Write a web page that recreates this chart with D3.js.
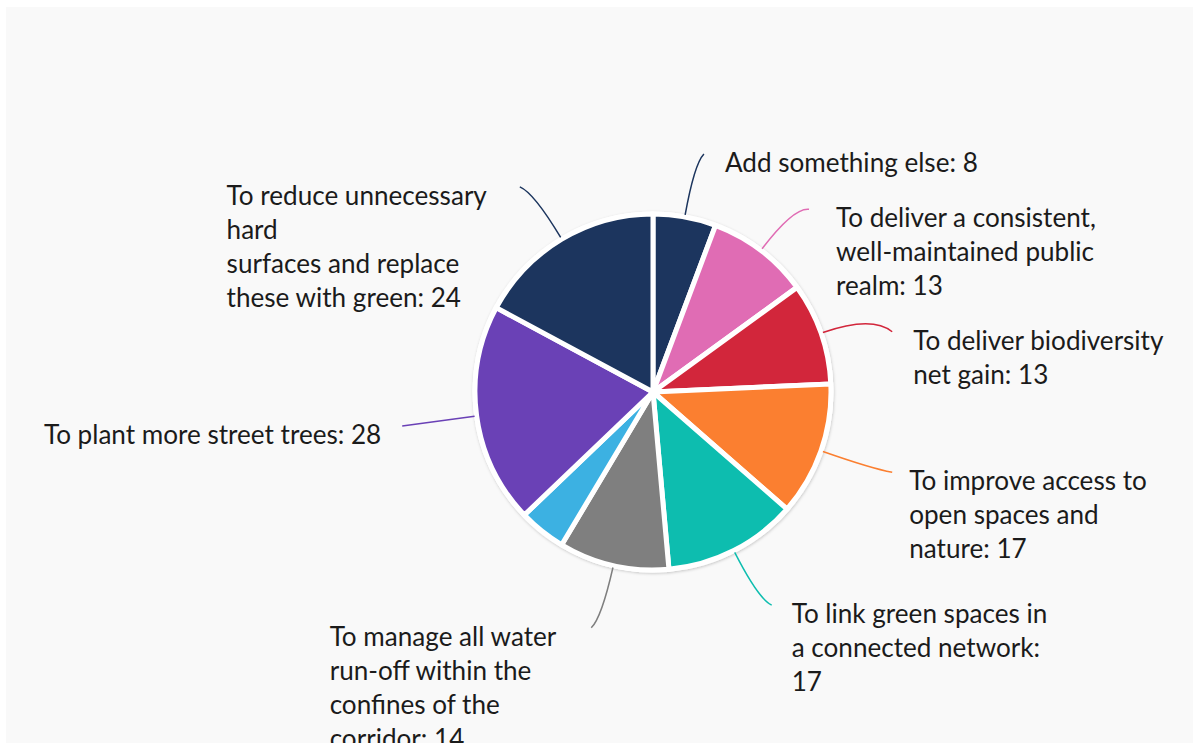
<!DOCTYPE html>
<html><head><meta charset="utf-8">
<script src="https://cdn.jsdelivr.net/npm/d3@7"></script>
<style>body{margin:0;background:#fff;overflow:hidden} svg{display:block}</style>
</head><body><svg id="c" width="1199" height="743"></svg>
<script>
// ---- data ----
const categories = [
  "Add something else",
  "To deliver a consistent, well-maintained public realm",
  "To deliver biodiversity net gain",
  "To improve access to open spaces and nature",
  "To link green spaces in a connected network",
  "To manage all water run-off within the confines of the corridor",
  "Other",
  "To plant more street trees",
  "To reduce unnecessary hard surfaces and replace these with green"
];
const values = [8, 13, 13, 17, 17, 14, 6, 28, 24];
// label text as displayed (wrapped), {v} = value; empty = no label shown
const labelTemplates = [
  "Add something else: {v}",
  "To deliver a consistent,\nwell-maintained public\nrealm: {v}",
  "To deliver biodiversity\nnet gain: {v}",
  "To improve access to\nopen spaces and\nnature: {v}",
  "To link green spaces in\na connected network:\n{v}",
  "To manage all water\nrun-off within the\nconfines of the\ncorridor: {v}",
  "",
  "To plant more street trees: {v}",
  "To reduce unnecessary\nhard\nsurfaces and replace\nthese with green: {v}"
];
const colors = ["#1c355e","#e06cb4","#d2263b","#fb7f30","#0dbdaf","#7f7f7f","#3cb1e2","#6a41b6","#1c355e"];
// layout: nudges of each label relative to its radial anchor
const labelNudge = [13, 22, 30, 8, 3, 5, 0, 10, 15];
const labelNudgeX = [0, 6, 0, -4, -1, -14, 0, 0, -12];

// ---- layout ----
const W = 1199, H = 743;
const cx = 653, cy = 392, R = 178, labelDist = 68;
const lineH = 34;

const svg = d3.select("#c");
const defs = svg.append("defs");
const f = defs.append("filter").attr("id","sh").attr("x","-20%").attr("y","-20%").attr("width","140%").attr("height","140%");
f.append("feDropShadow").attr("dx",0.5).attr("dy",1).attr("stdDeviation",1.6).attr("flood-color","#000").attr("flood-opacity",0.22);

svg.append("rect").attr("x",6).attr("y",7).attr("width",W-12).attr("height",H-7).attr("fill","#f9f9f9");

const g = svg.append("g").attr("transform",`translate(${cx},${cy})`);

const pie = d3.pie().sort(null).value(d=>d)(values);
const arc = d3.arc().innerRadius(0).outerRadius(R);

g.append("circle").attr("r",R+2.5).attr("fill","#fff").attr("filter","url(#sh)");
g.selectAll("path.slice").data(pie).join("path").attr("class","slice")
  .attr("d",arc).attr("fill",(d,i)=>colors[i]).attr("stroke","#fff").attr("stroke-width",5).attr("stroke-linejoin","round");

// font sizing to match reference text width
const probe = svg.append("text").attr("font-family","Lato, 'Source Sans Pro', sans-serif").attr("font-size",100).text("Add something else: 8");
const pw = probe.node().getComputedTextLength();
probe.remove();
const fs = 100*253/pw;

const polar = (r,a)=>[r*Math.sin(a), -r*Math.cos(a)];

pie.forEach((d,i)=>{
  const tpl = labelTemplates[i];
  if(!tpl) return;
  const a = (d.startAngle+d.endAngle)/2;
  const side = Math.sin(a) >= 0 ? 1 : -1;
  const anchor = polar(R+labelDist, a);
  const firstCenter = anchor[1] + labelNudge[i];
  const lines = tpl.replace("{v}", values[i]).split("\n");
  const t = g.append("text").attr("font-family","Lato, 'Source Sans Pro', sans-serif")
    .attr("font-size",fs).attr("fill","#1b1b1b");
  lines.forEach((ln,k)=>{
    t.append("tspan").attr("y", firstCenter + k*lineH).attr("dy","0.35em").text(ln);
  });
  let maxW = 0;
  t.selectAll("tspan").each(function(){ maxW = Math.max(maxW, this.getComputedTextLength()); });
  let lx;
  if(side>0){ lx = anchor[0] + 28; }
  else { lx = anchor[0] - 28 - maxW; }
  const edge = side>0 ? lx : lx + maxW;
  t.selectAll("tspan").attr("x", lx + labelNudgeX[i]);
  const end = [edge - side*21, firstCenter - 9];
  const start = polar(R+2, a);
  const ctrl = polar(R+labelDist-14, a);
  const p = d3.path();
  p.moveTo(start[0], start[1]);
  p.quadraticCurveTo(ctrl[0], ctrl[1], end[0], end[1]);
  g.append("path").attr("d", p.toString()).attr("fill","none").attr("stroke",colors[i]).attr("stroke-width",1.5);
});
</script>
</body></html>
